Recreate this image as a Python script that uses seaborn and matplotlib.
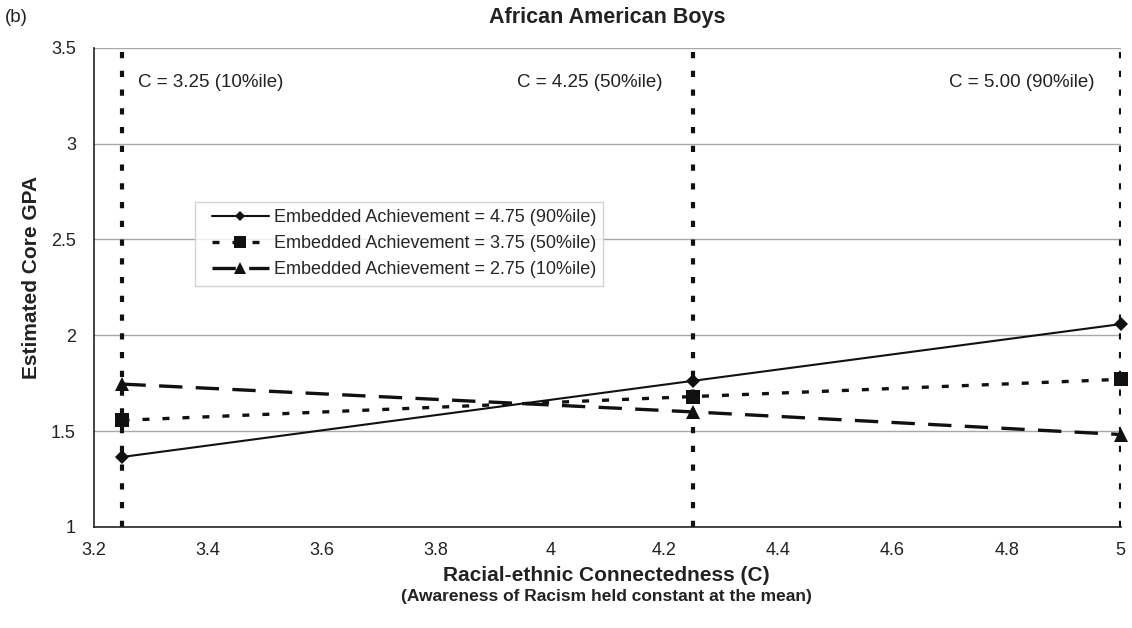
import pandas as pd
import seaborn as sns
import matplotlib.pyplot as plt
from matplotlib.lines import Line2D
from matplotlib.legend_handler import HandlerLine2D

# values
connectedness = [3.25, 4.25, 5.00]
ea_high = [1.365, 1.762, 2.058]   # Embedded Achievement = 4.75 (90%ile)
ea_mid = [1.556, 1.680, 1.770]    # Embedded Achievement = 3.75 (50%ile)
ea_low = [1.745, 1.600, 1.482]    # Embedded Achievement = 2.75 (10%ile)
series_labels = ['Embedded Achievement = 4.75 (90%ile)',
                 'Embedded Achievement = 3.75 (50%ile)',
                 'Embedded Achievement = 2.75 (10%ile)']
ref_labels = ['C = 3.25 (10%ile)', 'C = 4.25 (50%ile)', 'C = 5.00 (90%ile)']
x_ticks = [3.2, 3.4, 3.6, 3.8, 4.0, 4.2, 4.4, 4.6, 4.8, 5.0]
x_ticklabels = ['3.2', '3.4', '3.6', '3.8', '4', '4.2', '4.4', '4.6', '4.8', '5']
y_ticks = [1, 1.5, 2, 2.5, 3, 3.5]
y_ticklabels = ['1', '1.5', '2', '2.5', '3', '3.5']

rows = []
for label, vals in zip(series_labels, [ea_high, ea_mid, ea_low]):
    for c, v in zip(connectedness, vals):
        rows.append({'C': c, 'GPA': v, 'series': label})
df = pd.DataFrame(rows)

sns.set_style('white')
plt.rcParams['font.family'] = ['Liberation Sans', 'DejaVu Sans']

fig = plt.figure(figsize=(11.32, 6.28), dpi=100)
ax = fig.add_axes([0.083, 0.161, 0.907, 0.763])

# horizontal gridlines
for y in y_ticks[1:]:
    ax.axhline(y, color='#a8a8a8', lw=1.0, zorder=0)

# vertical reference lines at the percentiles
for c in connectedness:
    ax.axvline(c, color='#111111', lw=3.0, dashes=(1.5, 3.0), zorder=1)

markers = {series_labels[0]: 'D', series_labels[1]: 's', series_labels[2]: '^'}
dashes = {series_labels[0]: '', series_labels[1]: (2.1, 3.9), series_labels[2]: (7.0, 4.0)}
sns.lineplot(data=df, x='C', y='GPA', hue='series', style='series',
             hue_order=series_labels, style_order=series_labels,
             palette=['#111111'] * 3, markers=markers, dashes=dashes,
             ax=ax, zorder=3, markeredgewidth=0)

widths = [1.5, 2.4, 2.4]
sizes = [7.5, 9.5, 10.5]
data_lines = [ln for ln in ax.get_lines() if len(ln.get_xdata()) == 3]
for ln, lw, ms in zip(data_lines, widths, sizes):
    ln.set_linewidth(lw)
    ln.set_markersize(ms)
    ln.set_clip_on(False)

leg = ax.legend(loc='upper left', bbox_to_anchor=(0.098, 0.678), fontsize=13,
                frameon=True, fancybox=False, edgecolor='#c8c8c8',
                handlelength=3.7, handletextpad=0.28, borderpad=0.4,
                labelspacing=0.5, borderaxespad=0,
                handler_map={Line2D: HandlerLine2D(xpad=0.55)})
leg.get_frame().set_linewidth(1.0)
for h, lw, ms in zip(leg.get_lines(), widths, [5.5, 9, 9]):
    h.set_linewidth(lw)
    h.set_markersize(ms)

# percentile annotations
ax.text(3.277, 3.317, ref_labels[0], fontsize=13.5, va='center', ha='left', color='#222222')
ax.text(4.197, 3.317, ref_labels[1], fontsize=13.5, va='center', ha='right', color='#222222')
ax.text(4.954, 3.317, ref_labels[2], fontsize=13.5, va='center', ha='right', color='#222222')

ax.set_xlim(3.2, 5.0)
ax.set_ylim(1, 3.5)
ax.set_xticks(x_ticks)
ax.set_xticklabels(x_ticklabels)
ax.set_yticks(y_ticks)
ax.set_yticklabels(y_ticklabels)
ax.tick_params(axis='x', direction='in', length=5, width=1, labelsize=13, pad=11, colors='#222222')
ax.tick_params(axis='y', direction='out', length=5, width=1, labelsize=13, pad=8, colors='#222222')

for side in ['top', 'right']:
    ax.spines[side].set_visible(False)
for side in ['left', 'bottom']:
    ax.spines[side].set_color('#222222')
    ax.spines[side].set_linewidth(1.2)

ax.set_xlabel('')
ax.set_ylabel('Estimated Core GPA', fontsize=15, fontweight='bold', color='#222222')
ax.yaxis.set_label_coords(-0.052, 0.52)
fig.text(0.536, 0.083, 'Racial-ethnic Connectedness (C)', fontsize=15,
         fontweight='bold', ha='center', va='center', color='#222222')
fig.text(0.536, 0.050, '(Awareness of Racism held constant at the mean)', fontsize=12.5,
         fontweight='bold', ha='center', va='center', color='#222222')
fig.text(0.536, 0.972, 'African American Boys', fontsize=15.5, fontweight='bold',
         ha='center', va='center', color='#222222')
fig.text(0.004, 0.972, '(b)', fontsize=13.5, ha='left', va='center', color='#222222')

fig.savefig('out.png', dpi=100)
